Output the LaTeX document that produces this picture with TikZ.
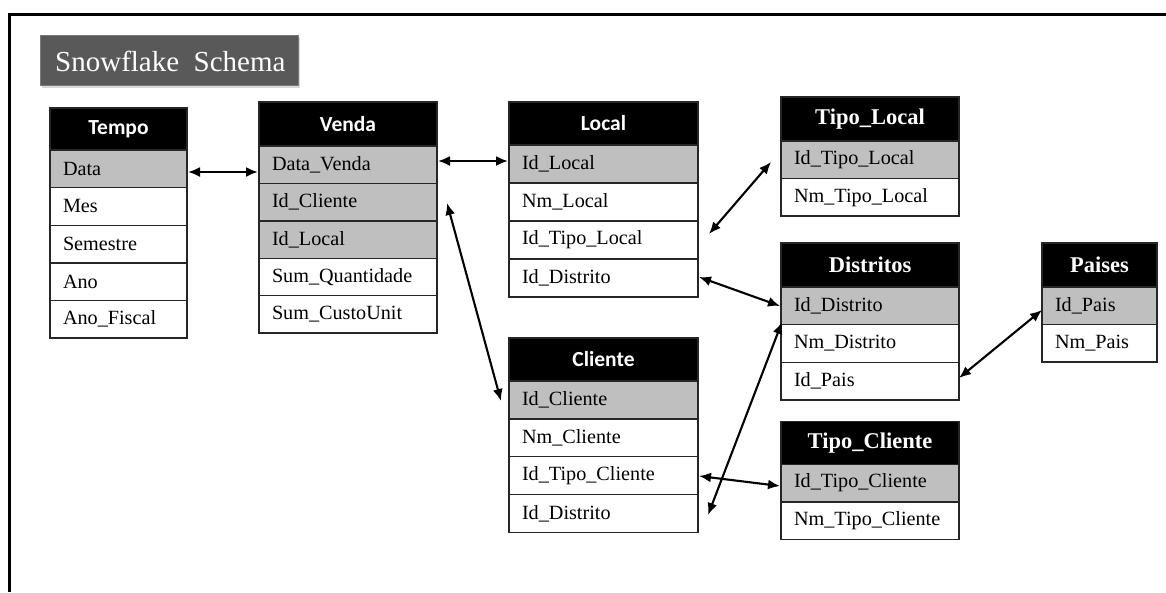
\documentclass[tikz,border=0pt]{standalone}
\usepackage{fontspec}
\setmainfont{Liberation Serif}
\newfontfamily\hdrsans{Carlito}
\usetikzlibrary{arrows.meta,shadows}
\definecolor{keygray}{HTML}{BFBFBF}
\definecolor{titlegray}{HTML}{595959}
\begin{document}
\begin{tikzpicture}[x=1pt,y=-1pt,
  cell/.style={draw=black!85, line width=1.4pt, anchor=north west, outer sep=0pt,
    inner xsep=13pt, inner ysep=0pt, align=left,
    font=\fontsize{20.2}{22}\selectfont, minimum height=#1},
  keycell/.style={cell=#1, fill=keygray},
  plaincell/.style={cell=#1, fill=white},
  hsans/.style={cell=#1, fill=black, text=white, align=center,
    font=\hdrsans\bfseries\fontsize{21.5}{23}\selectfont},
  hserif/.style={cell=#1, fill=black, text=white, align=center,
    font=\bfseries\fontsize{22.5}{24}\selectfont},
  link/.style={line width=2.1pt, {Latex[length=12pt,width=10pt]}-{Latex[length=12pt,width=10pt]}},
  titlebox/.style={fill=titlegray, draw=titlegray!80, line width=0.8pt, anchor=north west,
    outer sep=0pt, inner sep=0pt, minimum width=258pt, minimum height=50pt,
    drop shadow={opacity=0.3, shadow xshift=2pt, shadow yshift=-2.5pt}},
]
\useasboundingbox (0,0) rectangle (1166,592);
\fill[white] (0,0) rectangle (1166,592);
% outer frame (cropped)
\draw[line width=3pt] (9.5,592) -- (9.5,14.5) -- (1166,14.5);

% title
\node[titlebox] (titlebg) at (40,35) {};
\node[anchor=west, text=white, font=\fontsize{29}{30}\selectfont, inner sep=0pt] (title) at (55,61) {Snowflake\ \ Schema};

% Tempo
\node[hsans=42, text width=111pt] (tempo) at (50,108) {Tempo};
\node[keycell=37.6, text width=111pt] (tempo-data) at (50,150) {Data};
\node[plaincell=37.6, text width=111pt] (tempo-mes) at (50,187.6) {Mes};
\node[plaincell=37.6, text width=111pt] (tempo-sem) at (50,225.2) {Semestre};
\node[plaincell=37.6, text width=111pt] (tempo-ano) at (50,262.8) {Ano};
\node[plaincell=37.6, text width=111pt] (tempo-af) at (50,300.4) {Ano\_Fiscal};

% Venda
\node[hsans=44, text width=152pt] (venda) at (259,102) {Venda};
\node[keycell=37.4, text width=152pt] (venda-data) at (259,146) {Data\_Venda};
\node[keycell=37.4, text width=152pt] (venda-cli) at (259,183.4) {Id\_Cliente};
\node[keycell=37.4, text width=152pt] (venda-loc) at (259,220.8) {Id\_Local};
\node[plaincell=37.4, text width=152pt] (venda-qt) at (259,258.2) {Sum\_Quantidade};
\node[plaincell=37.4, text width=152pt] (venda-cu) at (259,295.6) {Sum\_CustoUnit};

% Local
\node[hsans=43, text width=163pt] (local) at (509,102) {Local};
\node[keycell=38, text width=163pt] (local-id) at (509,145) {Id\_Local};
\node[plaincell=38, text width=163pt] (local-nm) at (509,183) {Nm\_Local};
\node[plaincell=38, text width=163pt] (local-tipo) at (509,221) {Id\_Tipo\_Local};
\node[plaincell=38, text width=163pt] (local-dist) at (509,259) {Id\_Distrito};

% Tipo_Local
\node[hserif=44, text width=152pt] (tlocal) at (781,97) {Tipo\_Local};
\node[keycell=37.5, text width=152pt] (tlocal-id) at (781,141) {Id\_Tipo\_Local};
\node[plaincell=37.5, text width=152pt] (tlocal-nm) at (781,178.5) {Nm\_Tipo\_Local};

% Distritos
\node[hserif=44, text width=152pt] (dist) at (781,243) {Distritos};
\node[keycell=37.7, text width=152pt] (dist-id) at (781,287) {Id\_Distrito};
\node[plaincell=37.7, text width=152pt] (dist-nm) at (781,324.7) {Nm\_Distrito};
\node[plaincell=37.7, text width=152pt] (dist-pais) at (781,362.4) {Id\_Pais};

% Paises
\node[hserif=44, text width=89pt] (paises) at (1042,243) {Paises};
\node[keycell=37.5, text width=89pt] (paises-id) at (1042,287) {Id\_Pais};
\node[plaincell=37.5, text width=89pt] (paises-nm) at (1042,324.5) {Nm\_Pais};

% Cliente
\node[hsans=43, text width=163pt] (cli) at (509,338) {Cliente};
\node[keycell=37.8, text width=163pt] (cli-id) at (509,381) {Id\_Cliente};
\node[plaincell=37.8, text width=163pt] (cli-nm) at (509,418.8) {Nm\_Cliente};
\node[plaincell=37.8, text width=163pt] (cli-tipo) at (509,456.6) {Id\_Tipo\_Cliente};
\node[plaincell=37.8, text width=163pt] (cli-dist) at (509,494.4) {Id\_Distrito};

% Tipo_Cliente
\node[hserif=42.5, text width=152pt] (tcli) at (781,421.7) {Tipo\_Cliente};
\node[keycell=37.6, text width=152pt] (tcli-id) at (781,464.2) {Id\_Tipo\_Cliente};
\node[plaincell=37.6, text width=152pt] (tcli-nm) at (781,501.8) {Nm\_Tipo\_Cliente};

% connector end points
\coordinate (p1a) at (188,172);   \coordinate (p1b) at (258,172);
\coordinate (p2a) at (438,161);   \coordinate (p2b) at (508,161);
\coordinate (p3a) at (447,203);   \coordinate (p3b) at (501,401);
\coordinate (p4a) at (709,234);   \coordinate (p4b) at (771,162);
\coordinate (p5a) at (699,277);   \coordinate (p5b) at (780,306);
\coordinate (p6a) at (959,378);   \coordinate (p6b) at (1042,310);
\coordinate (p7a) at (708,515);   \coordinate (p7b) at (782,322);
\coordinate (p8a) at (699,476);   \coordinate (p8b) at (780,486);

\draw[link] (p1a) -- (p1b);
\draw[link] (p2a) -- (p2b);
\draw[link] (p3a) -- (p3b);
\draw[link] (p4a) -- (p4b);
\draw[link] (p5a) -- (p5b);
\draw[link] (p6a) -- (p6b);
\draw[link] (p7a) -- (p7b);
\draw[link] (p8a) -- (p8b);
\end{tikzpicture}
\end{document}
